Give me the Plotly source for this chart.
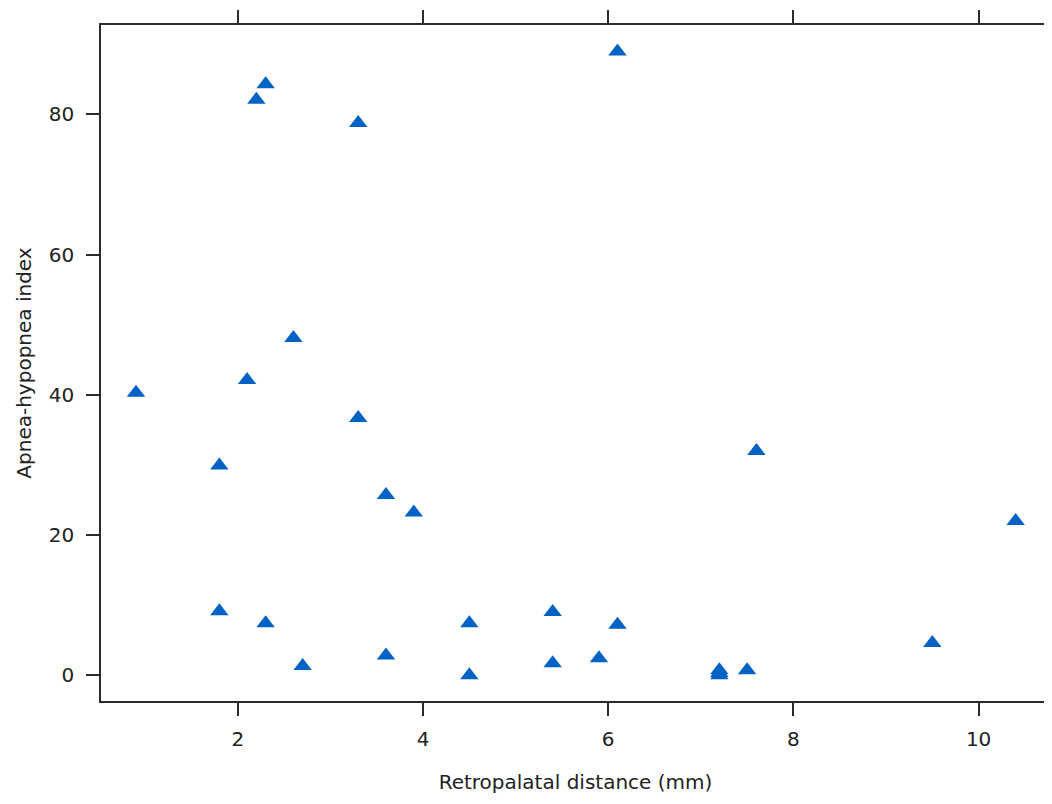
import plotly.graph_objects as go

# Retropalatal distance (mm)
distance = [0.9, 1.8, 1.8, 2.1, 2.2, 2.3, 2.3, 2.6, 2.7, 3.3, 3.3, 3.6, 3.6, 3.9,
            4.5, 4.5, 5.4, 5.4, 5.9, 6.1, 6.1, 7.2, 7.2, 7.2, 7.5, 7.6, 9.5, 10.4]
# Apnea-hypopnea index
ahi = [40.3, 29.9, 9.1, 42.1, 82.1, 84.3, 7.4, 48.1, 1.3, 78.8, 36.7, 25.7, 2.8, 23.2,
       7.4, 0.0, 9.0, 1.7, 2.4, 89.0, 7.2, 0.7, 0.3, 0.0, 0.7, 32.0, 4.6, 22.0]

x_ticks = [2, 4, 6, 8, 10]
y_ticks = [0, 20, 40, 60, 80]

FONT = "DejaVu Sans"
LINE = "#2b2b2b"

fig = go.Figure(
    go.Scatter(
        x=distance, y=ahi, mode="markers",
        marker=dict(symbol="triangle-up", size=16, color="#0062C4", line=dict(width=0)),
        showlegend=False,
    )
)

axis_common = dict(
    showline=True, linecolor=LINE, linewidth=1.5, mirror="ticks",
    ticks="outside", ticklen=13, tickwidth=1.5, tickcolor=LINE,
    showgrid=False, zeroline=False,
    tickfont=dict(family=FONT, size=20, color="#222"),
)

fig.update_xaxes(
    range=[0.522, 10.771], tickvals=x_ticks, ticktext=[str(v) for v in x_ticks],
    title=dict(text="Retropalatal distance (mm)", font=dict(family=FONT, size=20, color="#222"), standoff=25),
    ticklabelstandoff=6,
    **axis_common,
)
fig.update_yaxes(
    range=[-3.69, 92.77], tickvals=y_ticks, ticktext=[str(v) for v in y_ticks],
    title=dict(text="Apnea-hypopnea index", font=dict(family=FONT, size=20, color="#222"), standoff=12),
    ticklabelstandoff=8,
    **axis_common,
)

fig.update_layout(
    width=1059, height=788, autosize=False,
    margin=dict(l=93, r=2, t=11, b=95),
    paper_bgcolor="white", plot_bgcolor="white",
    font=dict(family=FONT, size=20, color="#222"),
)

fig.write_html("out.html")
